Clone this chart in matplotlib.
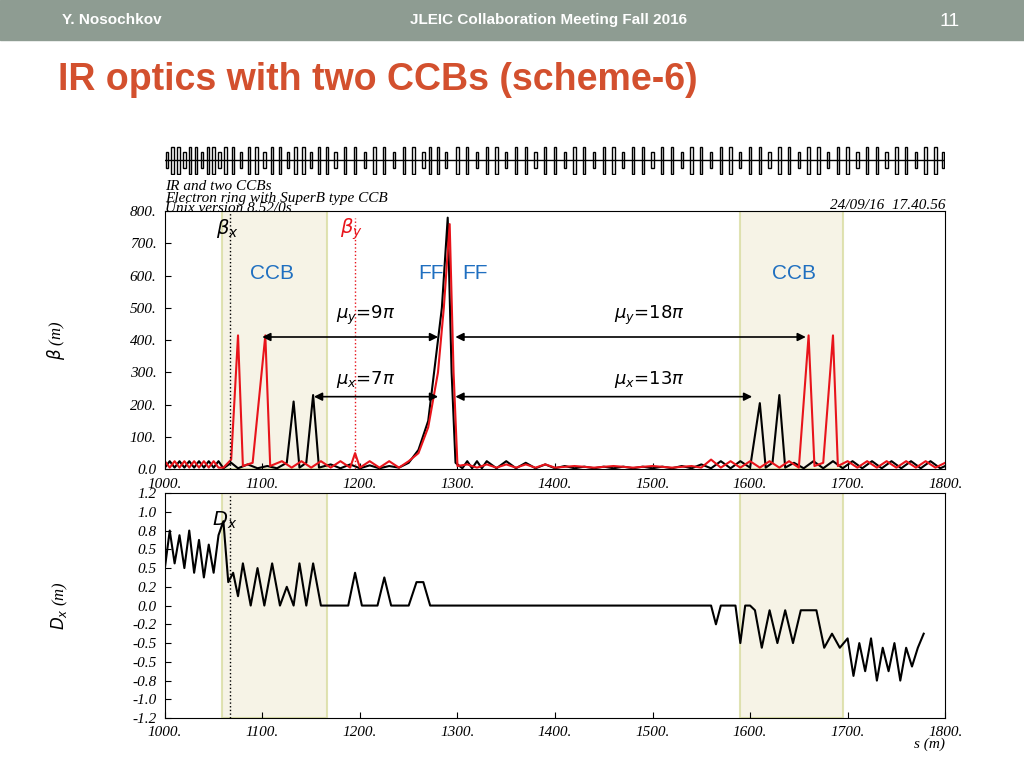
import matplotlib.pyplot as plt
from matplotlib.patches import Rectangle

plt.rcParams['font.family'] = ['Liberation Serif', 'DejaVu Serif']

# beta_x (black)
bx_s = [1000,1005,1010,1015,1020,1025,1030,1035,1040,1045,1050,1055,1060,1068,1075,1085,1095,1105,1115,1125,
        1132,1138,1145,1152,1158,1170,1180,1190,1200,1210,1220,1230,1240,1250,1260,1270,1278,1284,1290,1294,
        1298,1305,1310,1315,1320,1325,1330,1340,1350,1360,1370,1380,1390,1400,1410,1420,1430,1440,1450,1460,
        1470,1480,1490,1500,1510,1520,1530,1540,1550,1560,1570,1580,1590,1600,1610,1616,1623,1630,1636,1645,
        1655,1665,1675,1685,1695,1705,1715,1725,1735,1745,1755,1765,1775,1785,1795,1800]
bx_v = [5,25,5,25,5,25,5,25,5,25,5,25,3,20,3,15,3,10,3,20,
        210,5,20,230,5,15,3,15,3,12,3,10,5,20,60,150,350,500,780,300,
        20,3,25,3,25,3,25,3,25,3,20,3,15,3,10,3,8,3,8,3,
        8,3,8,3,8,3,10,3,15,3,25,3,25,5,205,5,20,230,5,20,
        3,25,3,25,3,25,3,25,3,25,3,25,3,25,3,10]
# beta_y (red)
by_s = [1000,1005,1010,1015,1020,1025,1030,1035,1040,1045,1050,1055,1060,1068,1075,1080,1090,1103,1108,1120,
        1130,1140,1150,1160,1170,1180,1190,1195,1200,1210,1220,1230,1240,1250,1260,1270,1280,1286,1292,1296,
        1300,1310,1320,1330,1340,1350,1360,1370,1380,1390,1400,1420,1440,1460,1480,1500,1520,1540,1550,1560,
        1570,1580,1590,1600,1610,1620,1630,1640,1650,1660,1666,1675,1685,1690,1700,1710,1720,1730,1740,1750,
        1760,1770,1780,1790,1800]
by_v = [25,5,25,5,25,5,25,5,25,5,25,5,5,30,415,10,20,415,10,25,
        5,25,5,25,5,25,5,50,5,25,5,25,5,25,50,130,300,500,760,300,
        10,15,5,15,5,15,5,15,5,15,5,10,5,10,5,10,5,10,5,30,
        5,25,5,25,5,25,5,25,5,415,10,20,415,10,25,5,25,5,25,5,
        25,5,25,5,20]
# dispersion (black)
dx_s = [1000,1005,1010,1015,1020,1025,1030,1035,1040,1045,1050,1055,1060,1065,1070,1075,1080,1088,1095,1102,
        1110,1118,1125,1132,1138,1145,1152,1160,1170,1180,1188,1195,1202,1210,1218,1225,1232,1240,1250,1258,
        1265,1272,1280,1400,1500,1560,1565,1570,1585,1590,1595,1600,1605,1612,1620,1628,1636,1644,1652,1660,
        1668,1676,1684,1692,1700,1706,1712,1718,1724,1730,1736,1742,1748,1754,1760,1766,1772,1778]
dx_v = [0.4,0.8,0.45,0.75,0.4,0.8,0.35,0.7,0.3,0.65,0.35,0.75,0.9,0.25,0.35,0.1,0.45,0.0,0.4,0.0,
        0.45,0.0,0.2,0.0,0.45,0.0,0.45,0.0,0.0,0.0,0.0,0.35,0.0,0.0,0.0,0.3,0.0,0.0,0.0,0.25,
        0.25,0.0,0.0,0.0,0.0,0.0,-0.2,0.0,0.0,-0.4,0.0,0.0,-0.05,-0.45,-0.05,-0.4,-0.05,-0.4,-0.05,-0.05,
        -0.05,-0.45,-0.3,-0.45,-0.35,-0.75,-0.4,-0.7,-0.35,-0.8,-0.45,-0.7,-0.4,-0.8,-0.45,-0.65,-0.45,-0.3]
# lattice element positions (m)
elem_s = [1002,1008,1014,1020,1026,1032,1038,1044,1050,1056,1062,1070,1078,1086,1094,1102,1110,1118,1126,1134,
          1142,1150,1158,1166,1175,1185,1195,1205,1215,1225,1235,1245,1255,1265,1272,1280,1288,1300,1310,1320,
          1330,1340,1350,1360,1370,1380,1390,1400,1410,1420,1430,1440,1450,1460,1470,1480,1490,1500,1510,1520,
          1530,1540,1550,1560,1570,1580,1590,1600,1610,1620,1630,1640,1650,1660,1670,1680,1690,1700,1710,1720,
          1730,1740,1750,1760,1770,1780,1790,1798]
ccb_regions = [(1059, 1166), (1590, 1695)]

fig = plt.figure(figsize=(10.24, 7.68), dpi=100)
fig.patches.append(Rectangle((0, 1 - 40 / 768), 1, 40 / 768, transform=fig.transFigure, color='#8e9c92'))
hdr = dict(color='white', fontsize=11, family='Liberation Sans', va='center', weight='bold')
fig.text(62 / 1024, 1 - 20 / 768, 'Y. Nosochkov', **hdr)
fig.text(548 / 1024, 1 - 20 / 768, 'JLEIC Collaboration Meeting Fall 2016', ha='center', **hdr)
fig.text(950 / 1024, 1 - 22 / 768, '11', ha='center', color='white', fontsize=14, family='Liberation Sans', va='center')
fig.text(58 / 1024, 1 - 80 / 768, 'IR optics with two CCBs (scheme-6)', color='#d3502e', fontsize=27,
         weight='bold', family='Liberation Sans', va='center')

# lattice bar
axl = fig.add_axes([0.161, 0.772, 0.762, 0.039])
axl.axhline(0, color='k', lw=1)
for i, s in enumerate(elem_s):
    h = 1.0 if i % 3 else 0.6
    axl.add_patch(Rectangle((s - 1.2, -h), 2.4, 2 * h, fill=False, ec='k', lw=1))
axl.set_xlim(1000, 1800)
axl.set_ylim(-1.1, 1.1)
axl.axis('off')

tick_kw = dict(fontsize=11, style='italic')
ax1 = fig.add_axes([0.161, 0.389, 0.762, 0.336])
ax1.plot(bx_s, bx_v, color='k', lw=1.5)
ax1.plot(by_s, by_v, color='#e8141b', lw=1.5)
ax1.set_xlim(1000, 1800)
ax1.set_ylim(0, 800)
ax1.set_yticks(range(0, 801, 100))
ax1.set_yticklabels(['0.0'] + [f'{v}.' for v in range(100, 801, 100)], **tick_kw)
ax1.set_xticks(range(1000, 1801, 100))
ax1.set_xticklabels([f'{v}.' for v in range(1000, 1801, 100)], **tick_kw)
ax1.tick_params(direction='in', length=4, pad=6)
ax1.set_ylabel(r'$\beta$ (m)', fontsize=12, style='italic', labelpad=45)
ax1.axvline(1067, color='k', ls=':', lw=1)
ax1.plot([1195, 1195], [0, 780], color='#e8141b', ls=':', lw=1)
ax1.text(1052, 730, r'$\beta_x$', fontsize=14)
ax1.text(1180, 730, r'$\beta_y$', fontsize=14, color='#e8141b')
blue = dict(color='#1f6fc0', fontsize=15, family='Liberation Sans', ha='center')
ax1.text(1110, 590, 'CCB', **blue)
ax1.text(1645, 590, 'CCB', **blue)
ax1.text(1273, 590, 'FF', **blue)
ax1.text(1318, 590, 'FF', **blue)
arr = dict(arrowstyle='<|-|>', color='k', lw=1.2, mutation_scale=12)
ax1.annotate('', xy=(1097, 410), xytext=(1283, 410), arrowprops=arr)
ax1.annotate('', xy=(1295, 410), xytext=(1660, 410), arrowprops=arr)
ax1.annotate('', xy=(1150, 225), xytext=(1283, 225), arrowprops=arr)
ax1.annotate('', xy=(1295, 225), xytext=(1605, 225), arrowprops=arr)
mu = dict(fontsize=13, family='DejaVu Sans')
ax1.text(1175, 465, r'$\mu_y$=9$\pi$', **mu)
ax1.text(1460, 465, r'$\mu_y$=18$\pi$', **mu)
ax1.text(1175, 265, r'$\mu_x$=7$\pi$', **mu)
ax1.text(1460, 265, r'$\mu_x$=13$\pi$', **mu)
ital = dict(fontsize=11, style='italic')
ax1.text(1000, 865, 'IR and two CCBs', **ital)
ax1.text(1000, 830, 'Electron ring with SuperB type CCB', **ital)
ax1.text(1000, 796, 'Unix version 8.52/0s', **ital)
ax1.text(1800, 808, '24/09/16  17.40.56', ha='right', **ital)

ax2 = fig.add_axes([0.161, 0.065, 0.762, 0.293])
ax2.plot(dx_s, dx_v, color='k', lw=1.5)
ax2.set_xlim(1000, 1800)
ax2.set_ylim(-1.2, 1.2)
ax2.set_yticks([-1.2, -1.0, -0.8, -0.6, -0.4, -0.2, 0.0, 0.2, 0.4, 0.6, 0.8, 1.0, 1.2])
ax2.set_yticklabels(['-1.2', '-1.0', '-0.8', '-0.5', '-0.5', '-0.2', '0.0', '0.2', '0.5', '0.5', '0.8', '1.0', '1.2'], **tick_kw)
ax2.set_xticks(range(1000, 1801, 100))
ax2.set_xticklabels([f'{v}.' for v in range(1000, 1801, 100)], **tick_kw)
ax2.tick_params(direction='in', length=4, pad=6)
ax2.set_ylabel(r'$D_x$ (m)', fontsize=12, style='italic', labelpad=45)
ax2.text(1048, 0.85, r'$D_x$', fontsize=14)
ax2.text(1800, -1.52, 's (m)', ha='right', **ital)
ax2.axvline(1067, color='k', ls=':', lw=1)

for a in (ax1, ax2):
    for lo, hi in ccb_regions:
        a.axvspan(lo, hi, facecolor='#f4f1e0', edgecolor='#d9dca0', lw=1.5, alpha=0.8, zorder=0)

fig.savefig('out.png', dpi=100)
